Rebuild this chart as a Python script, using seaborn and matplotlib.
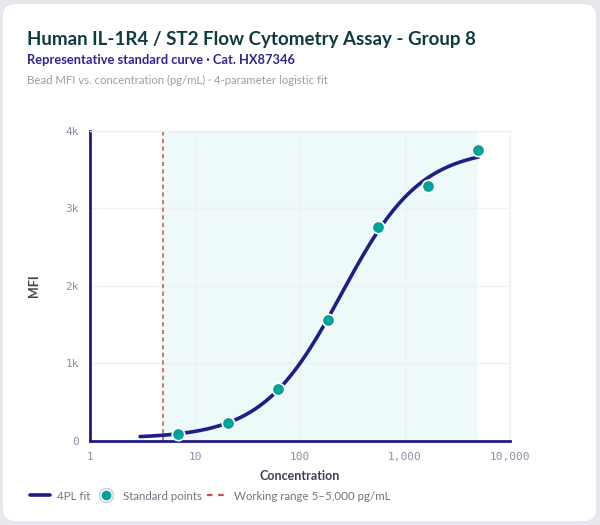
import numpy as np
import pandas as pd
import matplotlib
matplotlib.use("Agg")
import matplotlib.pyplot as plt
import seaborn as sns
from matplotlib.patches import FancyBboxPatch
from matplotlib.lines import Line2D
from matplotlib.ticker import FixedLocator, FixedFormatter, NullLocator

# ---- data ----
conc_points = [6.86, 20.6, 61.7, 185, 556, 1667, 5000]
mfi_points = [90, 225, 667, 1560, 2755, 3285, 3755]
# 4PL fit parameters (bottom, top, EC50, hill)
fit_bottom, fit_top, fit_ec50, fit_hill = 30, 3780, 250, 1.15
fit_range = [3, 5000]
working_range = [5, 5000]
x_ticks = [1, 10, 100, 1000, 10000]
x_tick_labels = ["1", "10", "100", "1,000", "10,000"]
y_ticks = [0, 1000, 2000, 3000, 4000]
y_tick_labels = ["0", "1k", "2k", "3k", "4k"]

title = "Human IL-1R4 / ST2 Flow Cytometry Assay - Group 8"
subtitle = "Representative standard curve · Cat. HX87346"
caption = "Bead MFI vs. concentration (pg/mL) · 4-parameter logistic fit"

# ---- colours ----
navy = "#1f1d86"
teal = "#00a39a"
red = "#d2475a"
grid = "#eef0f4"
band = "#eef9fa"
tick_col = "#8a8fa6"

sns.set_theme(style="white")
plt.rcParams["font.family"] = ["Lato", "DejaVu Sans"]

fig = plt.figure(figsize=(6, 5.25), dpi=100)
fig.patch.set_facecolor("#e6e8ee")
card = FancyBboxPatch((2 / 600, 3 / 525), 595 / 600, 519 / 525,
                      boxstyle="round,pad=0,rounding_size=0.025",
                      transform=fig.transFigure, facecolor="white",
                      edgecolor="#e1e3ea", linewidth=1, zorder=-10)
fig.patches.append(card)

ax = fig.add_axes([90 / 600, 1 - 440.7 / 525, 420 / 600, 309.7 / 525])
ax.set_facecolor("none")
ax.set_zorder(1)

xs = np.logspace(np.log10(fit_range[0]), np.log10(fit_range[1]), 200)
ys = fit_top + (fit_bottom - fit_top) / (1 + (xs / fit_ec50) ** fit_hill)
df_fit = pd.DataFrame({"x": xs, "y": ys})
df_pts = pd.DataFrame({"x": conc_points, "y": mfi_points})

ax.axvspan(working_range[0], working_range[1], color=band, zorder=0, lw=0)
ax.axvline(working_range[0], color=red, ls=(0, (2.8, 2.2)), lw=1.1, zorder=1)

sns.lineplot(data=df_fit, x="x", y="y", ax=ax, color=navy, lw=2.6, zorder=3)
sns.scatterplot(data=df_pts, x="x", y="y", ax=ax, color=teal, s=80,
                edgecolor="white", linewidth=1.2, zorder=4)

ax.set_xscale("log")
ax.set_xlim(1, 10000)
ax.set_ylim(0, 4000)
ax.xaxis.set_major_locator(FixedLocator(x_ticks))
ax.xaxis.set_major_formatter(FixedFormatter(x_tick_labels))
ax.xaxis.set_minor_locator(NullLocator())
ax.set_yticks(y_ticks)
ax.set_yticklabels(y_tick_labels)
ax.grid(True, color=grid, lw=1, zorder=0)
ax.set_axisbelow(True)

for s in ["top", "right"]:
    ax.spines[s].set_color(grid)
    ax.spines[s].set_linewidth(1)
for s in ["left", "bottom"]:
    ax.spines[s].set_color(navy)
    ax.spines[s].set_linewidth(2)
ax.tick_params(axis="both", length=0, pad=8, colors=tick_col, labelsize=8)
for lab in ax.get_xticklabels() + ax.get_yticklabels():
    lab.set_family(["DejaVu Sans Mono"])

ax.set_xlabel("Concentration", fontsize=9, fontweight="bold", color="#3b4252", labelpad=6)
ax.set_ylabel("MFI", fontsize=9, fontweight="bold", color="#3b4252", labelpad=18)

fig.text(27 / 600, 1 - 45 / 525, title, fontsize=13.5, fontweight="bold", color="#0f3b40")
fig.text(27 / 600, 1 - 64 / 525, subtitle, fontsize=9.3, fontweight="bold", color="#2c2593")
fig.text(27 / 600, 1 - 84 / 525, caption, fontsize=8.2, color="#9a9ea9")

h_fit = Line2D([], [], color=navy, lw=2.6)
h_pts = (Line2D([], [], marker="o", ls="", markersize=10, markerfacecolor="white",
                markeredgecolor="#c9ccd6", markeredgewidth=1),
         Line2D([], [], marker="o", ls="", markersize=6, markerfacecolor=teal,
                markeredgecolor=teal))
h_wr = Line2D([], [], color=red, lw=1.6, ls=(0, (2.5, 2.5)))
leg = fig.legend([h_fit, h_pts, h_wr],
                 ["4PL fit", "Standard points", "Working range 5–5,000 pg/mL"],
                 loc="center left", bbox_to_anchor=(20 / 600, 1 - 496 / 525),
                 ncol=3, frameon=False, fontsize=8.3, handlelength=1.7,
                 columnspacing=0.5, handletextpad=0.6)
for t in leg.get_texts():
    t.set_color("#6e7383")

fig.savefig("out.png", dpi=100, facecolor=fig.get_facecolor())
